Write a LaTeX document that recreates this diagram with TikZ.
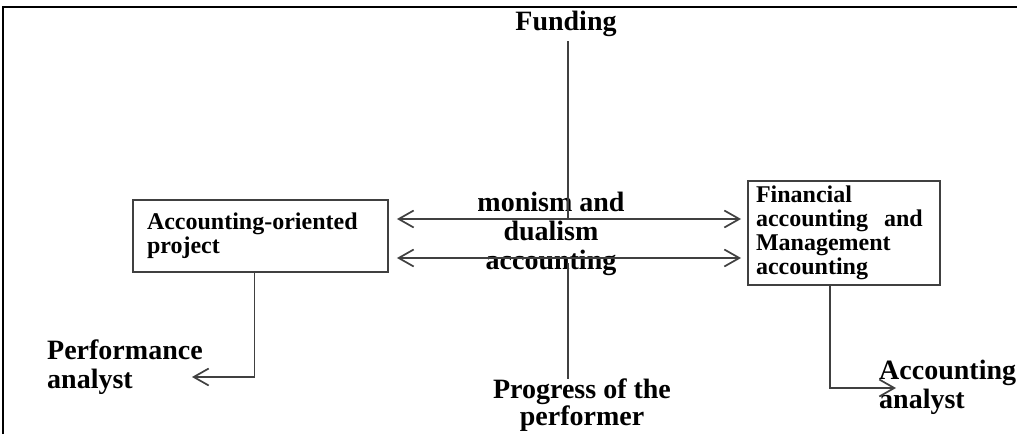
\documentclass[tikz,border=0pt]{standalone}
\usepackage{fontspec}
\setmainfont{Liberation Serif}
\usepackage{xcolor}
\usetikzlibrary{arrows.meta}

\definecolor{linegray}{HTML}{404040}

\begin{document}
\begin{tikzpicture}[x=1pt,y=-1pt,>={Straight Barb[length=15pt,width=17pt]},
  link/.style={line width=1.7pt,draw=linegray},
  box/.style={draw=linegray,line width=1.9pt,align=left,inner ysep=4pt,font=\bfseries\fontsize{24}{24}\selectfont},
  lbl/.style={inner sep=0pt,font=\bfseries\fontsize{28}{29}\selectfont}]
 \useasboundingbox (0,0) rectangle (1017,434);
 \draw[line width=2.2pt] (3,434) -- (3,7) -- (1017,7);

 \node[box,minimum width=255pt,minimum height=72pt,text width=227pt,inner xsep=14pt] (lbox) at (260.5,236)
  {Accounting-oriented\\project};
 \node[box,minimum width=192pt,minimum height=104pt,text width=176pt,inner xsep=8pt] (rbox) at (844,233)
  {Financial\\accounting\ \ and\\Management\\accounting};

 \node[lbl] (fund) at (566,24) {Funding};
 \node[lbl,align=center,font=\bfseries\fontsize{28}{27}\selectfont] (prog) at (582,405) {Progress of the\\performer};
 \node[lbl,align=left,anchor=west] (perf) at (47,367) {Performance\\analyst};
 \node[lbl,align=left,anchor=west] (acan) at (879,387) {Accounting\\analyst};
 \node[lbl,align=center] (mono) at (551,234) {monism and\\dualism\\accounting};

 \coordinate (cut1) at (568,219);
 \coordinate (cut2) at (568,263);
 \coordinate (ptip) at (192,377);
 \coordinate (atip) at (896,388);

 % axis
 \draw[link] ([yshift=-4pt]fund.south -| cut1) -- (cut1);
 \draw[link] (cut2) -- ([yshift=-1pt]prog.north -| cut2);

 % two-way links
 \draw[link,<->] ([xshift=8pt,yshift=17pt]lbox.east) -- ([xshift=-6pt]rbox.west |- cut1);
 \draw[link,<->] ([xshift=8pt,yshift=-22pt]lbox.east) -- ([xshift=-6pt,yshift=-25pt]rbox.west);

 % analysts
 \draw[link,->] ([xshift=-6pt]lbox.south) |- (ptip);
 \draw[link,->] ([xshift=-14pt]rbox.south) |- (atip);
\end{tikzpicture}
\end{document}
